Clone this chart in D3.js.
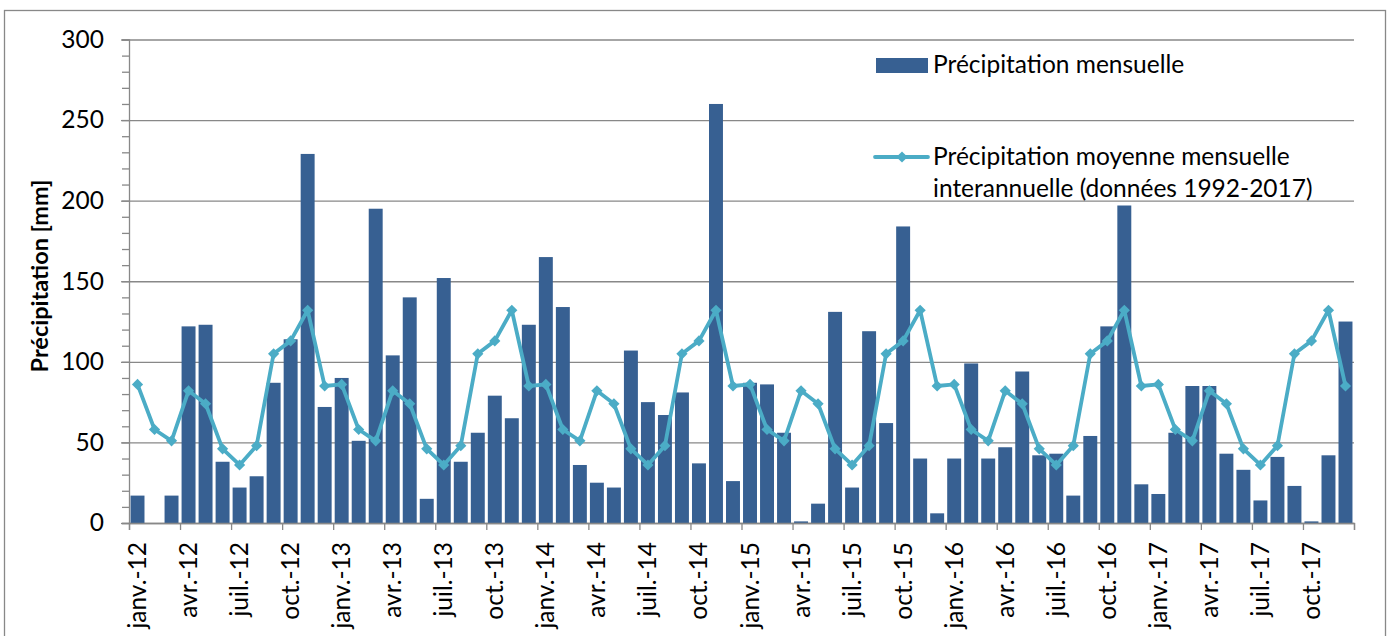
<!DOCTYPE html>
<html>
<head>
<meta charset="utf-8">
<script src="https://cdn.jsdelivr.net/npm/d3@7"></script>
<style>
    body { margin: 0; background: #fff; }
    text { font-family: Lato, "Open Sans", sans-serif; fill: #000; }
</style>
</head>
<body>
<svg id="chart" width="1392" height="636"></svg>
<script>
// months jan 2012 -> dec 2017
const monthNames = ['janv.', 'févr.', 'mars', 'avr.', 'mai', 'juin', 'juil.', 'août', 'sept.', 'oct.', 'nov.', 'déc.']
const years = ['12', '13', '14', '15', '16', '17']

// monthly precipitation [mm]
const precip = [
    17, 0, 17, 122, 123, 38, 22, 29, 87, 114, 229, 72,
    90, 51, 195, 104, 140, 15, 152, 38, 56, 79, 65, 123,
    165, 134, 36, 25, 22, 107, 75, 67, 81, 37, 260, 26,
    87, 86, 56, 1, 12, 131, 22, 119, 62, 184, 40, 6,
    40, 99, 40, 47, 94, 42, 43, 17, 54, 122, 197, 24,
    18, 56, 85, 85, 43, 33, 14, 41, 23, 1, 42, 125
]

// mean monthly interannual precipitation 1992-2017 (jan..dec)
const meanMonthly = [86, 58, 51, 82, 74, 46, 36, 48, 105, 113, 132, 85]

const yTicks = [0, 50, 100, 150, 200, 250, 300]

const barColor = '#376092'
const lineColor = '#4bacc6'
const gridColor = '#888888'
const fontSize = 24.5

let categories = []
years.forEach(function(yy){
    monthNames.forEach(function(m){
        categories.push(m + '-' + yy)
    })
})
let data = categories.map(function(c, i){
    return {'label': c, 'index': i, 'value': precip[i], 'mean': meanMonthly[i % 12]}
})

const svg = d3.select('#chart')
const plotLeft = 129, plotRight = 1354, plotTop = 39.5, plotBottom = 523

// outer frame
svg.append('rect')
.attr('x', 4.5).attr('y', 10.5)
.attr('width', 1381).attr('height', 640)
.attr('fill', 'none')
.attr('stroke', gridColor)
.attr('stroke-width', 1.3)

let x = d3.scaleBand()
.domain(categories)
.range([plotLeft, plotRight])
.paddingInner(0.18)
.paddingOuter(0.09)

let xEdge = d3.scaleLinear()
.domain([0, categories.length])
.range([plotLeft, plotRight])

let y = d3.scaleLinear()
.domain([0, 300])
.range([plotBottom, plotTop])

// horizontal gridlines
svg.append('g')
.attr('transform', 'translate(' + plotLeft + ',0)')
.call(d3.axisLeft(y).tickValues(yTicks).tickSize(-(plotRight - plotLeft)).tickFormat(''))
.call(g => g.select('.domain').remove())
.selectAll('line')
.attr('stroke', gridColor)
.attr('stroke-width', 1.3)

// bars
svg.append('g')
.selectAll('rect')
.data(data)
.enter()
.append('rect')
.attr('x', d => x(d.label))
.attr('y', d => y(d.value))
.attr('width', x.bandwidth())
.attr('height', d => y(0) - y(d.value))
.attr('fill', barColor)

// y axis: minor + major ticks
let yAxis = svg.append('g').attr('transform', 'translate(' + plotLeft + ',0)')
yAxis.call(d3.axisLeft(y).tickValues(d3.range(0, 301, 10)).tickSize(7).tickFormat(''))
yAxis.append('g')
.call(d3.axisLeft(y).tickValues(yTicks).tickSize(8).tickPadding(17).tickFormat(d3.format('d')))
.call(g => g.select('.domain').remove())
yAxis.selectAll('line').attr('stroke', gridColor).attr('stroke-width', 1.3)
yAxis.selectAll('.domain').attr('stroke', gridColor).attr('stroke-width', 1.3)
yAxis.selectAll('text')
.attr('font-size', fontSize)
.attr('font-family', 'Lato, sans-serif')
.attr('fill', '#000')

// x axis: ticks on category boundaries every 3 months
let xAxis = svg.append('g').attr('transform', 'translate(0,' + plotBottom + ')')
xAxis.call(d3.axisBottom(xEdge).tickValues(d3.range(0, categories.length + 1, 3)).tickSize(7).tickFormat(''))
xAxis.selectAll('line').attr('stroke', gridColor).attr('stroke-width', 1.3)
xAxis.select('.domain').attr('stroke', gridColor).attr('stroke-width', 1.3)

svg.append('g')
.selectAll('text')
.data(data.filter(d => d.index % 3 == 0))
.enter()
.append('text')
.attr('transform', d => 'translate(' + (x(d.label) + x.bandwidth() / 2 + 8.5) + ',' + (plotBottom + 19) + ') rotate(-90)')
.attr('text-anchor', 'end')
.attr('font-size', fontSize)
.text(d => d.label)

// mean line
let line = d3.line()
.x(d => x(d.label) + x.bandwidth() / 2)
.y(d => y(d.mean))

svg.append('path')
.datum(data)
.attr('d', line)
.attr('fill', 'none')
.attr('stroke', lineColor)
.attr('stroke-width', 3.8)
.attr('stroke-linejoin', 'round')

let diamond = d3.symbol().type(d3.symbolDiamond2).size(80)
svg.append('g')
.selectAll('path')
.data(data)
.enter()
.append('path')
.attr('d', diamond)
.attr('transform', d => 'translate(' + (x(d.label) + x.bandwidth() / 2) + ',' + y(d.mean) + ')')
.attr('fill', lineColor)

// y axis title
svg.append('text')
.attr('transform', 'translate(48,276) rotate(-90)')
.attr('text-anchor', 'middle')
.attr('font-size', 23.5)
.attr('font-weight', 'bold')
.text('Précipitation [mm]')

// legend
let legend = svg.append('g')
legend.append('rect')
.attr('x', 876).attr('y', 58)
.attr('width', 52).attr('height', 15)
.attr('fill', barColor)
legend.append('text')
.attr('x', 933).attr('y', 73)
.attr('font-size', fontSize)
.text('Précipitation mensuelle')

legend.append('line')
.attr('x1', 875).attr('x2', 928)
.attr('y1', 157).attr('y2', 157)
.attr('stroke', lineColor)
.attr('stroke-width', 3.8)
.attr('stroke-linecap', 'round')
legend.append('path')
.attr('d', diamond)
.attr('transform', 'translate(902,157)')
.attr('fill', lineColor)
legend.append('text')
.attr('x', 933).attr('y', 165)
.attr('font-size', fontSize)
.text('Précipitation moyenne mensuelle')
legend.append('text')
.attr('x', 933).attr('y', 197)
.attr('font-size', fontSize)
.text('interannuelle (données 1992-2017)')
</script>
</body>
</html>
